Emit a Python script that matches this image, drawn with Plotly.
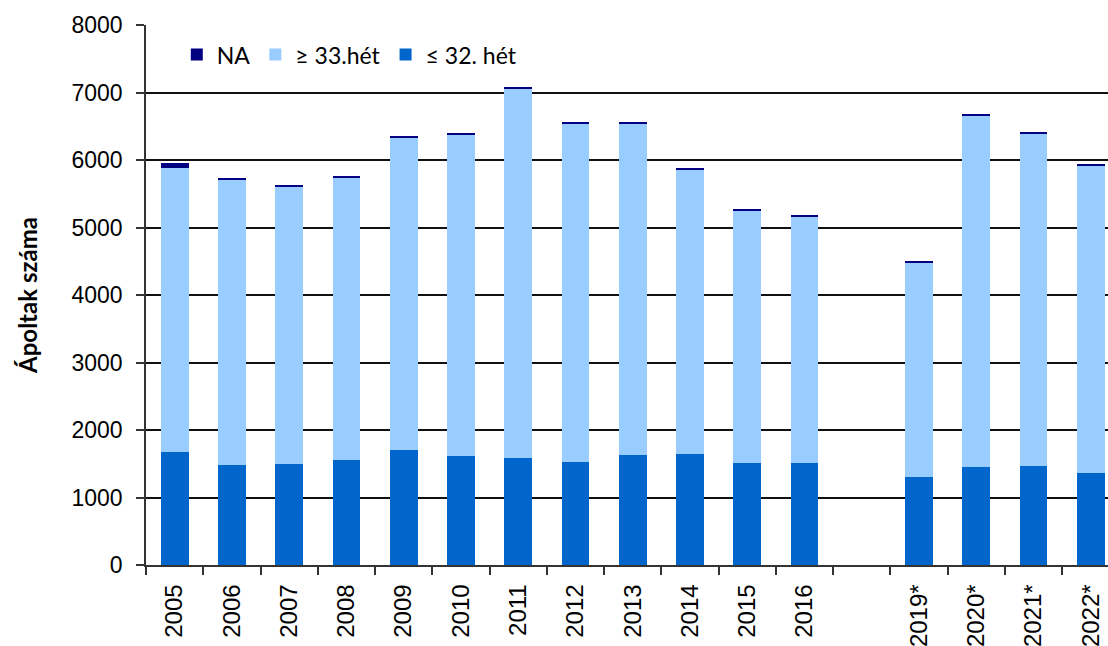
import plotly.graph_objects as go

# Years shown on the category axis; " " is an empty slot separating the two periods
categories = ["2005", "2006", "2007", "2008", "2009", "2010", "2011", "2012",
              "2013", "2014", "2015", "2016", " ", "2019*", "2020*", "2021*", "2022*"]

# Number of treated newborns by gestational age
le_32 = [1680, 1480, 1500, 1560, 1700, 1615, 1580, 1530, 1635, 1650, 1510, 1510,
         None, 1305, 1445, 1462, 1360]
ge_33 = [4205, 4235, 4095, 4185, 4640, 4760, 5485, 5010, 4910, 4210, 3735, 3660,
         None, 3180, 5215, 4925, 4565]
na_vals = [75, 20, 40, 25, 20, 20, 20, 15, 15, 20, 35, 20,
           None, 20, 20, 20, 20]

series = [
    ("≤ 32. hét", le_32, "#0066CC"),
    ("≥ 33.hét", ge_33, "#99CCFF"),
    ("NA", na_vals, "#000080"),
]

fig = go.Figure()
for name, vals, color in series:
    fig.add_trace(go.Bar(
        x=categories, y=vals, name=name,
        marker=dict(color=color, line=dict(width=0)),
        width=0.485,
    ))

fig.update_layout(
    width=1108, height=646,
    barmode="stack",
    plot_bgcolor="white", paper_bgcolor="white",
    margin=dict(l=146, r=0, t=25, b=81),
    font=dict(family="Liberation Sans", color="#000000"),
    legend=dict(
        orientation="h", x=0.032, y=0.985, xanchor="left", yanchor="top",
        traceorder="reversed",
        font=dict(family="Lato", size=23, color="#000000"),
        bgcolor="rgba(0,0,0,0)",
    ),
    xaxis=dict(
        type="category", categoryorder="array", categoryarray=categories,
        range=[-0.5, 16.3],
        tickangle=-90,
        tickfont=dict(family="Liberation Sans", size=24),
        ticks="outside", ticklen=8, tickwidth=1.5, tickcolor="#333",
        tickson="boundaries",
        ticklabelstandoff=8,
        showline=True, linecolor="#333", linewidth=1.5,
        showgrid=False,
    ),
    yaxis=dict(
        range=[0, 8000], dtick=1000,
        tickfont=dict(family="Liberation Sans", size=23),
        ticks="outside", ticklen=8, tickwidth=1.5, tickcolor="#333",
        ticklabelstandoff=9,
        showline=True, linecolor="#333", linewidth=1.5,
        showgrid=True, gridcolor="#111", gridwidth=1.6,
        zeroline=False,
        title=dict(text="<b>Ápoltak száma</b>",
                   font=dict(family="Lato", size=24), standoff=27),
    ),
)

fig.write_html("out.html")
